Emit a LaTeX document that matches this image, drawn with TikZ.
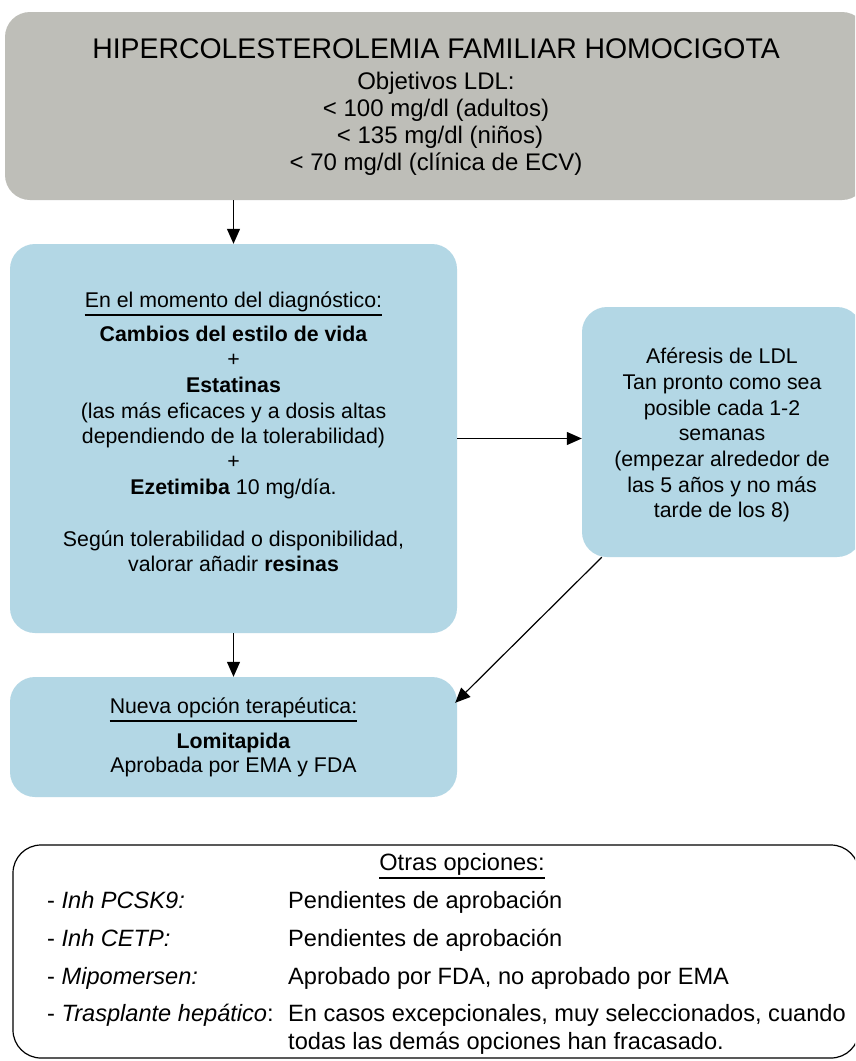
\documentclass[tikz,border=0pt]{standalone}
\usepackage{fontspec}
\setmainfont{Liberation Sans}
\usetikzlibrary{arrows.meta}
\definecolor{boxgray}{RGB}{190,190,184}
\definecolor{boxblue}{RGB}{179,215,229}
\begin{document}
\begin{tikzpicture}[x=1pt,y=-1pt,
  panel/.style={rounded corners=25pt, inner sep=0pt, draw=none},
  graypanel/.style={panel, fill=boxgray},
  bluepanel/.style={panel, fill=boxblue},
  framepanel/.style={rounded corners=28pt, inner sep=0pt, draw=black, line width=1.2pt, fill=white},
  ln/.style={inner sep=0pt, anchor=base},
  lnl/.style={inner sep=0pt, anchor=base west},
  ftitle/.style={font=\fontsize{28.4}{32}\selectfont},
  fsub/.style={font=\fontsize{24}{27}\selectfont},
  fbox/.style={font=\fontsize{21.3}{25.5}\selectfont},
  fbot/.style={font=\fontsize{23.6}{28}\selectfont},
  arr/.style={-{Triangle[length=15pt,width=13pt]}, line width=1.2pt},
  uline/.style={line width=1.2pt}
]
\useasboundingbox (0,0) rectangle (855,1061);
\clip (0,0) rectangle (855,1061);
\fill[white] (0,0) rectangle (855,1061);

% panels
\node[graypanel, minimum width=862pt, minimum height=188pt] (top) at (436,106) {};
\node[bluepanel, minimum width=447pt, minimum height=389pt] (diag) at (233.5,438.5) {};
\node[bluepanel, minimum width=280pt, minimum height=250pt] (afer) at (722,432) {};
\node[bluepanel, minimum width=447pt, minimum height=120pt] (nueva) at (233.5,737) {};
\node[framepanel, minimum width=846pt, minimum height=213pt] (otras) at (436,951.5) {};

% top text
\node[ln,ftitle] (t1) at (436,58) {HIPERCOLESTEROLEMIA FAMILIAR HOMOCIGOTA};
\node[ln,fsub] (t2) at (436,89) {Objetivos LDL:};
\node[ln,fsub] (t3) at (436,116) {< 100 mg/dl (adultos)};
\node[ln,fsub] (t4) at (440,143) {< 135 mg/dl (niños)};
\node[ln,fsub] (t5) at (436,170) {< 70 mg/dl (clínica de ECV)};

% diagnosis box text
\node[ln,fbox] (d1) at (233.5,307) {En el momento del diagnóstico:};
\draw[uline] ([yshift=-8pt]d1.base west) -- ([yshift=-8pt]d1.base east);
\node[ln,fbox] (d2) at (233.5,341) {\textbf{Cambios del estilo de vida}};
\node[ln,fbox] (d3) at (233.5,366) {+};
\node[ln,fbox] (d4) at (233.5,392) {\textbf{Estatinas}};
\node[ln,fbox] (d5) at (233.5,418) {(las más eficaces y a dosis altas};
\node[ln,fbox] (d6) at (233.5,443) {dependiendo de la tolerabilidad)};
\node[ln,fbox] (d7) at (233.5,468) {+};
\node[ln,fbox] (d8) at (233.5,494) {\textbf{Ezetimiba} 10 mg/día.};
\node[ln,fbox] (d9) at (233.5,546) {Según tolerabilidad o disponibilidad,};
\node[ln,fbox] (d10) at (233.5,571) {valorar añadir \textbf{resinas}};

% apheresis text
\node[ln,fbox] (a1) at (722,363) {Aféresis de LDL};
\node[ln,fbox] (a2) at (722,389) {Tan pronto como sea};
\node[ln,fbox] (a3) at (722,415) {posible cada 1-2};
\node[ln,fbox] (a4) at (722,440) {semanas};
\node[ln,fbox] (a5) at (722,466) {(empezar alrededor de};
\node[ln,fbox] (a6) at (722,492) {las 5 años y no más};
\node[ln,fbox] (a7) at (722,517) {tarde de los 8)};

% new option text
\node[ln,fbox] (n1) at (233.5,713) {Nueva opción terapéutica:};
\draw[uline] ([yshift=-8pt]n1.base west) -- ([yshift=-8pt]n1.base east);
\node[ln,fbox] (n2) at (233.5,748) {\textbf{Lomitapida}};
\node[ln,fbox] (n3) at (233.5,772) {Aprobada por EMA y FDA};

% other options
\node[ln,fbot] (o0) at (462,870) {Otras opciones:};
\draw[uline] ([yshift=-8pt]o0.base west) -- ([yshift=-8pt]o0.base east);
\node[lnl,fbot] (o1l) at (47,908) {- \textit{Inh PCSK9:}};
\node[lnl,fbot] (o1r) at (288,908) {Pendientes de aprobación};
\node[lnl,fbot] (o2l) at (47,946) {- \textit{Inh CETP:}};
\node[lnl,fbot] (o2r) at (288,946) {Pendientes de aprobación};
\node[lnl,fbot] (o3l) at (47,984) {- \textit{Mipomersen:}};
\node[lnl,fbot] (o3r) at (288,984) {Aprobado por FDA, no aprobado por EMA};
\node[lnl,fbot] (o4l) at (47,1021) {- \textit{Trasplante hepático}:};
\node[lnl,fbot] (o4r) at (288,1021) {En casos excepcionales, muy seleccionados, cuando};
\node[lnl,fbot] (o5r) at (288,1049) {todas las demás opciones han fracasado.};

% connectors
\draw[arr] (top.south -| diag.north) -- (diag.north);
\draw[arr] (diag.east) -- (diag.east -| afer.west);
\draw[arr] (diag.south) -- (nueva.north);
\draw[arr] ([xshift=20pt]afer.south west) -- ([xshift=-2pt,yshift=-26pt]nueva.north east);
\end{tikzpicture}
\end{document}
